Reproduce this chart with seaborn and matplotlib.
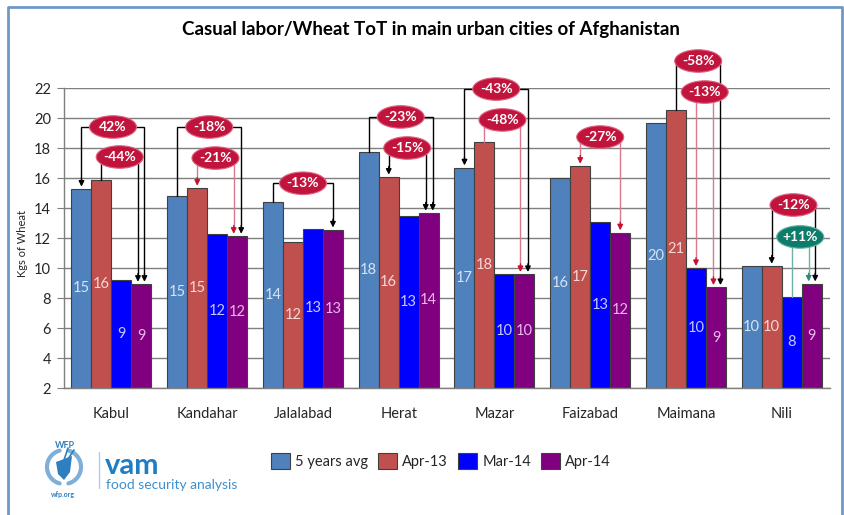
import matplotlib
matplotlib.use("Agg")
import matplotlib.pyplot as plt
import seaborn as sns
import pandas as pd
import numpy as np
from matplotlib.patches import Ellipse, Rectangle, Polygon

# ---------------- data ----------------
cities = ["Kabul", "Kandahar", "Jalalabad", "Herat", "Mazar", "Faizabad", "Maimana", "Nili"]
series_names = ["5 years avg", "Apr-13", "Mar-14", "Apr-14"]
avg5 = [15.27, 14.80, 14.40, 17.73, 16.69, 15.98, 19.64, 10.13]
apr13 = [15.87, 15.33, 11.73, 16.07, 18.38, 16.80, 20.52, 10.13]
mar14 = [9.20, 12.27, 12.60, 13.47, 9.58, 13.09, 9.98, 8.07]
apr14 = [8.93, 12.13, 12.55, 13.67, 9.58, 12.36, 8.71, 8.95]

# percentage-change call-outs (city index, text, from series, to series)
comp_city = [0, 0, 1, 1, 2, 3, 3, 4, 4, 5, 6, 6, 7, 7]
comp_label = ["42%", "-44%", "-18%", "-21%", "-13%", "-23%", "-15%",
              "-43%", "-48%", "-27%", "-58%", "-13%", "-12%", "+11%"]
comp_from = [0, 1, 0, 1, 0, 0, 1, 0, 1, 1, 1, 2, 1, 2]
comp_to = [3, 3, 3, 3, 3, 3, 3, 3, 3, 3, 3, 3, 3, 3]

# ---------------- layout / style for call-outs ----------------
comp_level = [19.4, 17.4, 19.4, 17.33, 15.65, 20.07, 18.0, 21.93, 19.87, 18.73, 23.8, 21.73, 14.2, 12.07]
comp_shift_px = [3, -3.5, 4, -3.5, 0, 4, -3, 3.5, -4, 0, 4.5, -2.5, 3.5, -3]
comp_from_arrow = [True, False, False, True, False, False, True, True, False, True, False, True, True, False]
comp_style = ["k", "k", "k", "r", "k", "k", "k", "k", "r", "r", "k", "r", "k", "t"]

styles = {
    "k": dict(line="#000000", head="#000000", ell="#C0143C", edge="#E06080"),
    "r": dict(line="#DA7890", head="#C8102E", ell="#C0143C", edge="#E06080"),
    "t": dict(line="#6DB3A8", head="#2E8B7D", ell="#0E7C6B", edge="#5FB0A0"),
}

bar_colors = ["#4F81BD", "#C0504D", "#0000FF", "#800080"]
label_colors = ["#D6E4F4", "#F6D8D6", "#C8C8FF", "#E8B8EC"]

sns.set_style("white")
plt.rcParams["font.family"] = ["Lato", "DejaVu Sans"]

W, H = 844, 515
fig = plt.figure(figsize=(W / 100, H / 100), dpi=100)
ax_l, ax_r, ax_t, ax_b = 63.6, 829.6, 88, 388
ax = fig.add_axes([ax_l / W, 1 - ax_b / H, (ax_r - ax_l) / W, (ax_b - ax_t) / H])

df = pd.DataFrame({
    "city": np.repeat(cities, 4),
    "series": series_names * len(cities),
    "value": np.ravel(np.column_stack([avg5, apr13, mar14, apr14])),
})

group_w = 0.835
sns.barplot(data=df, x="city", y="value", hue="series", order=cities,
            hue_order=series_names, palette=bar_colors, width=group_w, saturation=1,
            edgecolor="#404040", linewidth=0.8, legend=False, ax=ax, zorder=2)

ax.set_ylim(2, 22)
ax.set_xlim(-0.5, len(cities) - 0.5)
ax.set_yticks(range(2, 23, 2))
ax.yaxis.grid(True, color="#7F7F7F", linewidth=1)
ax.set_axisbelow(True)
for s in ["top", "right"]:
    ax.spines[s].set_visible(False)
for s in ["left", "bottom"]:
    ax.spines[s].set_color("#7F7F7F")
    ax.spines[s].set_linewidth(1)
ax.tick_params(axis="y", direction="out", length=5, color="#7F7F7F", labelsize=10.5, pad=4, left=True)
ax.tick_params(axis="x", length=0, labelsize=10.5, pad=14)
ax.set_xlabel("")
ax.set_ylabel("Kgs of Wheat", fontsize=8)
ax.yaxis.set_label_coords(-0.046, 0.483)

bw = group_w / 4
series_vals = [avg5, apr13, mar14, apr14]


def bar_x(i, j):
    return i + (j - 1.5) * bw


# value labels centred in the visible part of each bar
for j, vals in enumerate(series_vals):
    for i, v in enumerate(vals):
        ax.text(bar_x(i, j), (2 + v) / 2, f"{v:.0f}", ha="center", va="center",
                fontsize=10.5, color=label_colors[j], zorder=4)

# call-outs
px_per_x = (ax_r - ax_l) / len(cities)
ell_w = 47 / px_per_x
ell_h = 22.5 / 15.0
for k in range(len(comp_label)):
    i = comp_city[k]
    st = styles[comp_style[k]]
    x0 = bar_x(i, comp_from[k])
    x1 = bar_x(i, comp_to[k]) + comp_shift_px[k] / px_per_x
    top0 = series_vals[comp_from[k]][i]
    top1 = series_vals[comp_to[k]][i]
    lev = comp_level[k]
    end0 = top0 + (0.15 if comp_from_arrow[k] else 0)
    end1 = top1 + 0.15
    ax.plot([x0, x0, x1, x1], [end0 + (0.5 if comp_from_arrow[k] else 0), lev, lev, end1 + 0.5],
            color=st["line"], lw=1, zorder=5, clip_on=False, solid_joinstyle="miter")
    heads = [(x1, end1)]
    if comp_from_arrow[k]:
        heads.append((x0, end0))
    for hx, hy in heads:
        ax.annotate("", xy=(hx, hy), xytext=(hx, hy + 0.55),
                    arrowprops=dict(arrowstyle="-|>", color=st["head"], lw=1,
                                    mutation_scale=8, shrinkA=0, shrinkB=0),
                    zorder=6, annotation_clip=False)
    xm = (x0 + x1) / 2
    e = Ellipse((xm, lev), ell_w, ell_h, facecolor=st["ell"], edgecolor=st["edge"],
                lw=0.8, zorder=7, clip_on=False)
    ax.add_patch(e)
    ax.text(xm, lev, comp_label[k], ha="center", va="center", color="white",
            fontsize=10, fontweight="bold", zorder=8, clip_on=False)

# title
fig.text(431 / W, 1 - 29 / H, "Casual labor/Wheat ToT in main urban cities of Afghanistan",
         ha="center", va="center", fontsize=13.5, fontweight="bold", color="#000000")

# legend
handles = [Rectangle((0, 0), 1, 1, facecolor=c, edgecolor="#404040", lw=0.8) for c in bar_colors]
fig.legend(handles, series_names, loc="center", bbox_to_anchor=(441 / W, 1 - 461 / H),
           ncol=4, frameon=False, fontsize=10.5, handlelength=1.3, handleheight=1.3,
           handletextpad=0.35, columnspacing=0.7)

# decoration overlay (pixel coordinates)
deco = fig.add_axes([0, 0, 1, 1])
deco.set_xlim(0, W)
deco.set_ylim(H, 0)
deco.axis("off")
deco.patch.set_alpha(0)

# frame
deco.plot([8, 8, 842, 842], [H + 5, 7, 7, H + 5], color="#6F98C8", lw=2, clip_on=False)

# WFP / vam logo
cx, cy, r = 64, 467, 17
t = np.radians(np.linspace(105, 255, 40))
deco.plot(cx + r * np.cos(t), cy - r * np.sin(t), color="#7FAFD8", lw=3, solid_capstyle="round")
t = np.radians(np.linspace(-75, 75, 40))
deco.plot(cx + r * np.cos(t), cy - r * np.sin(t), color="#7FAFD8", lw=3, solid_capstyle="round")
deco.add_patch(Polygon([[56, 462], [72, 456], [70, 472], [64, 480], [58, 474]],
                       closed=True, facecolor="#2F7FC0", edgecolor="none"))
deco.plot([66, 74], [462, 450], color="#2F7FC0", lw=1.2)
deco.plot([64, 68], [460, 448], color="#2F7FC0", lw=1.2)
deco.text(65, 446, "WFP", ha="center", va="center", fontsize=6.5, fontweight="bold", color="#2F7FC0")
deco.text(63, 494, "wfp.org", ha="center", va="center", fontsize=5, fontweight="bold", color="#2F7FC0")
deco.plot([99, 99], [452, 488], color="#B0CDE8", lw=1)
deco.text(105, 474, "vam", ha="left", va="baseline", fontsize=21, fontweight="bold", color="#1F7DC4")
deco.text(106, 489, "food security analysis", ha="left", va="baseline", fontsize=10, color="#3D8FD0")

fig.savefig("out.png", dpi=100)
